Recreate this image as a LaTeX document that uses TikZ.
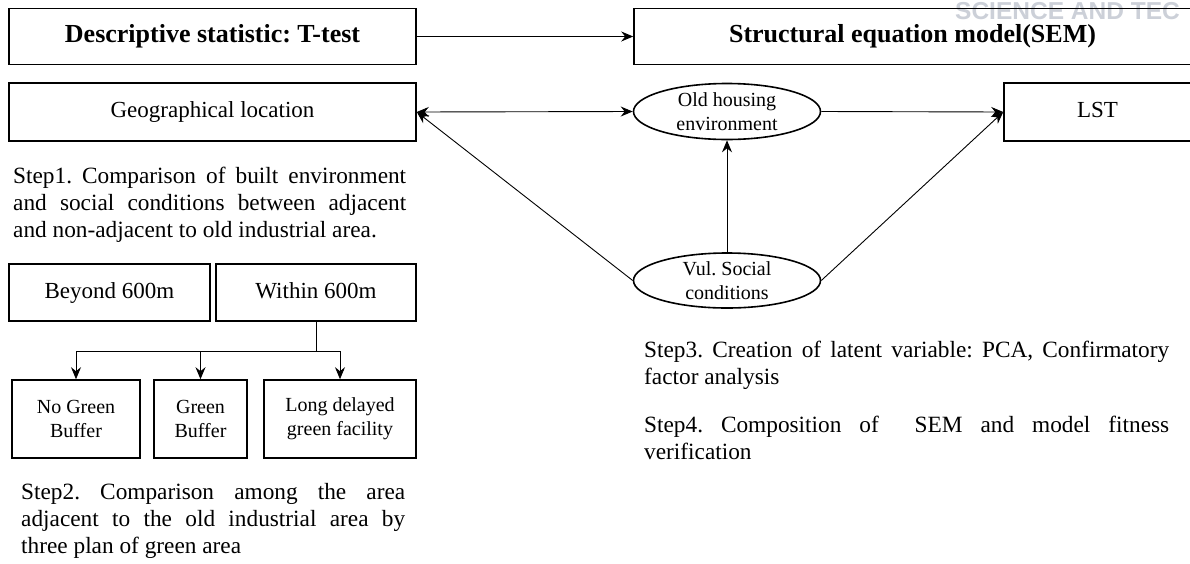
\documentclass[tikz,border=0pt]{standalone}
\usepackage{fontspec}
\setmainfont{Liberation Serif}
\setsansfont{Liberation Sans}
\usetikzlibrary{arrows.meta,shapes.geometric}
\definecolor{wmgray}{RGB}{204,208,216}
\frenchspacing
\begin{document}
\begin{tikzpicture}[x=1pt,y=-1pt,
  box/.style={draw, line width=1.6pt, inner sep=0pt, align=center},
  oval/.style={draw, ellipse, line width=1.6pt, inner sep=0pt},
  arr/.style={line width=0.9pt, -{Stealth[length=12pt,width=10pt,inset=4pt]}},
  darr/.style={line width=0.9pt, {Stealth[length=12pt,width=10pt,inset=4pt]}-{Stealth[length=12pt,width=10pt,inset=4pt]}},
  steptext/.style={inner sep=0pt, anchor=base west, align=justify, font=\fontsize{23.3}{27}\selectfont\frenchspacing},
  bigtxt/.style={font=\fontsize{26}{30}\selectfont\bfseries, text height=18pt, text depth=6pt},
  midtxt/.style={font=\fontsize{23}{27}\selectfont, text height=16pt, text depth=5pt},
  smalltxt/.style={font=\fontsize{20}{24}\selectfont, align=center, inner sep=0pt}]
\useasboundingbox (0,0) rectangle (1190,563);

% watermark
\node[anchor=base west, inner sep=0pt, text=wmgray, font=\sffamily\bfseries\fontsize{24.5}{25}\selectfont] (wm) at (955,19) {SCIENCE AND TEC};

% top row
\node[box, bigtxt, minimum width=407pt, minimum height=56pt] (desc) at (212.5,36.5) {Descriptive statistic: T-test};
\node[box, bigtxt, minimum width=557pt, minimum height=56pt] (sem) at (912.5,36.5) {Structural equation model(SEM)};

% second row
\node[box, midtxt, minimum width=407pt, minimum height=58pt] (geo) at (212.5,112) {Geographical location};
\node[oval, minimum width=187pt, minimum height=56pt] (old) at (727,111.5) {};
\node[smalltxt] (oldtxt) at (old) {Old housing\\environment};
\node[box, midtxt, minimum width=187pt, minimum height=58pt] (lst) at (1097.5,112) {LST};

\node[oval, minimum width=187pt, minimum height=55pt] (vul) at (727,280.5) {};
\node[smalltxt] (vultxt) at (vul) {Vul. Social\\conditions};

% SEM arrows
\draw[arr] (desc.east) -- (sem.west);
\draw[darr] (geo.east) -- (old.west);
\draw[arr] (vul.west) -- (geo.east);
\draw[arr] (vul.north) -- (old.south);
\draw[arr] (old.east) -- (lst.west);
\draw[arr] (vul.east) -- (lst.west);

% step 1
\node[steptext, text width=393pt] (s1) at (13,183) {Step1. Comparison of built environment\linebreak and social conditions between adjacent\linebreak and non-adjacent to old industrial area.};

% distance boxes
\node[box, midtxt, minimum width=201pt, minimum height=57pt] (beyond) at (109.5,292.5) {Beyond 600m};
\node[box, midtxt, minimum width=200pt, minimum height=57pt] (within) at (316,292.5) {Within 600m};

\node[box, smalltxt, minimum width=128pt, minimum height=78pt] (nog) at (76,419) {No Green\\Buffer};
\node[box, smalltxt, minimum width=93pt, minimum height=78pt] (gb) at (200.5,419) {Green\\Buffer};
\node[box, smalltxt, minimum width=152pt, minimum height=78pt] (ldg) at (340,419) {Long delayed\\green facility};

\coordinate (j) at (316,351);
\draw[line width=0.9pt] (within.south) -- (j);
\draw[arr] (j) -| (nog.north);
\draw[arr] (j) -| (gb.north);
\draw[arr] (j) -| (ldg.north);

% step 2
\node[steptext, text width=384pt] (s2) at (21,499) {Step2. Comparison among the area\linebreak adjacent to the old industrial area by\linebreak three plan of green area};

% steps 3, 4
\node[steptext, text width=525pt] (s3) at (644,357) {Step3. Creation of latent variable: PCA, Confirmatory\linebreak factor analysis};
\node[steptext, text width=525pt] (s4) at (644,432) {Step4. Composition of \ SEM and model fitness\linebreak verification};
\end{tikzpicture}
\end{document}
